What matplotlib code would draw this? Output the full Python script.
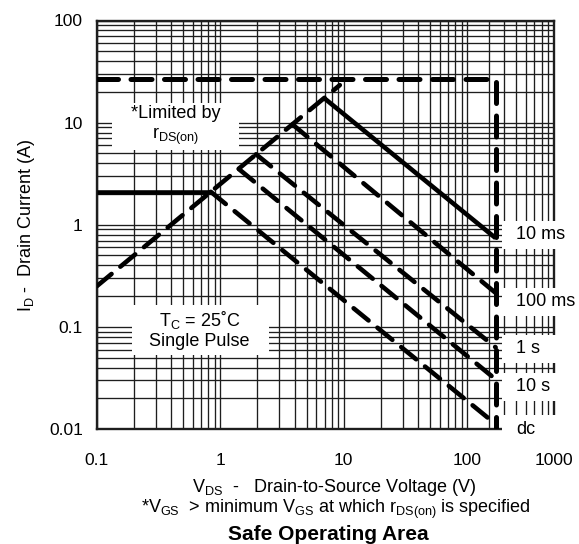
import matplotlib
matplotlib.use("Agg")
import matplotlib.pyplot as plt
from matplotlib.patches import Rectangle
from matplotlib.transforms import ScaledTranslation
from matplotlib.ticker import FixedLocator, FixedFormatter, NullFormatter

plt.rcParams["font.family"] = ["Liberation Sans", "DejaVu Sans"]
plt.rcParams["mathtext.fontset"] = "custom"
plt.rcParams["mathtext.rm"] = "Liberation Sans"
plt.rcParams["mathtext.it"] = "Liberation Sans:italic"
plt.rcParams["mathtext.bf"] = "Liberation Sans:bold"
plt.rcParams["mathtext.default"] = "regular"

# ---- SOA data (V_DS in volts, I_D in amps) ----
rds_v = [0.1, 9.3]          # r_DS(on) limit
rds_i = [0.25, 23.3]
idm_v = [0.1, 170, 170]     # pulsed current / BV_DSS limit
idm_i = [27, 27, 0.01]
pkg_v = [0.1, 0.84]         # package current limit
pkg_i = [2.1, 2.1]

pulse_names = ["10 ms", "100 ms", "1 s", "10 s", "dc"]
pulse_v = [[6.9, 170], [3.85, 170], [1.95, 170], [1.42, 168], [0.84, 165]]
pulse_i = [[17.5, 0.74], [9.6, 0.215], [4.9, 0.063], [3.5, 0.031], [2.1, 0.0115]]
pulse_solid = [True, False, False, False, False]
label_i = [0.80, 0.177, 0.0614, 0.026, 0.0099]
label_v = 250

x_ticks = [0.1, 1, 10, 100, 500]
x_tick_labels = ["0.1", "1", "10", "100", "1000"]
y_ticks = [0.01, 0.1, 1, 10, 100]
y_tick_labels = ["0.01", "0.1", "1", "10", "100"]

W, H = 579, 544
fig = plt.figure(figsize=(W / 100, H / 100), dpi=100)
x0, x1, yb, yt = 96.7, 553.5, 429.0, 20.5
ax = fig.add_axes([x0 / W, 1 - yb / H, (x1 - x0) / W, (yb - yt) / H])

ax.set_xscale("log")
ax.set_yscale("log")
ax.set_xlim(0.1, 500)
ax.set_ylim(0.01, 100)

# grid positions
x_minor = ([m * 0.1 for m in range(2, 10)] + list(range(2, 10))
           + [m * 10 for m in range(2, 10)] + [150, 200, 250, 300, 350, 400, 450])
y_minor = [m * 10.0 ** e for e in range(-2, 2) for m in range(2, 10)]
ax.xaxis.set_major_locator(FixedLocator(x_ticks))
ax.xaxis.set_major_formatter(FixedFormatter(x_tick_labels))
ax.xaxis.set_minor_locator(FixedLocator(x_minor))
ax.xaxis.set_minor_formatter(NullFormatter())
ax.yaxis.set_major_locator(FixedLocator(y_ticks))
ax.yaxis.set_major_formatter(FixedFormatter(y_tick_labels))
ax.yaxis.set_minor_locator(FixedLocator(y_minor))
ax.yaxis.set_minor_formatter(NullFormatter())

grid_kw = dict(color="#1e1e1e", linewidth=0.95)
ax.grid(True, which="both", **grid_kw)
ax.set_axisbelow(True)
ax.tick_params(which="both", length=0, labelsize=12.5)
ax.tick_params(axis="x", pad=17)
ax.tick_params(axis="y", pad=10)
for s in ax.spines.values():
    s.set_linewidth(1.7)
    s.set_color("#1e1e1e")

LW = 3.3
dash_kw = dict(dashes=(4.2, 2.5), dash_capstyle="round", solid_capstyle="butt")

ax.plot(rds_v, rds_i, color="black", lw=LW, zorder=4, **dash_kw)
ax.plot(idm_v, idm_i, color="black", lw=LW + 0.3, zorder=4, **dash_kw)
ax.plot(pkg_v, pkg_i, color="black", lw=LW, zorder=4, solid_capstyle="butt")
for v, i, solid in zip(pulse_v, pulse_i, pulse_solid):
    if solid:
        ax.plot(v, i, color="black", lw=LW, zorder=4, solid_capstyle="butt")
    else:
        ax.plot(v, i, color="black", lw=LW, zorder=4, **dash_kw)


def white_box(x, y, left, bottom, width, height):
    """White patch sized in pixels, anchored at a data point."""
    tr = fig.dpi_scale_trans + ScaledTranslation(x, y, ax.transData)
    r = Rectangle((left / 100, bottom / 100), width / 100, height / 100,
                  transform=tr, facecolor="white", edgecolor="none",
                  zorder=5, clip_on=False)
    ax.add_patch(r)


# note boxes inside the chart
white_box(0.434, 9.3, -63, -24, 127, 47)
ax.text(0.434, 9.3, "*Limited by\nr$_{DS(on)}$", ha="center", va="center",
        fontsize=13, linespacing=1.25, zorder=6)

white_box(0.678, 0.094, -67, -25, 137, 50)
ax.text(0.678, 0.094, "T$_C$ = 25˚C\nSingle Pulse", ha="center", va="center",
        fontsize=13, linespacing=1.2, zorder=6)

# pulse-width labels on the right
for name, iy in zip(pulse_names, label_i):
    white_box(label_v, iy, -14, -14, 100, 28)
    ax.text(label_v, iy, name, ha="left", va="center", fontsize=13, zorder=6)

fig.text(27 / W, 1 - 225 / H, "I$_D$ -  Drain Current (A)", rotation=90,
         ha="center", va="center", fontsize=13)
fig.text(334 / W, 1 - 487 / H, "V$_{DS}$  -   Drain-to-Source Voltage (V)",
         ha="center", va="center", fontsize=13)
fig.text(336 / W, 1 - 509 / H,
         "*V$_{GS}$  > minimum V$_{GS}$ at which r$_{DS(on)}$ is specified",
         ha="center", va="center", fontsize=13)
fig.text(328 / W, 1 - 534 / H, "Safe Operating Area", ha="center", va="center",
         fontsize=15, fontweight="bold")

fig.savefig("out.png", dpi=100, facecolor="white")
